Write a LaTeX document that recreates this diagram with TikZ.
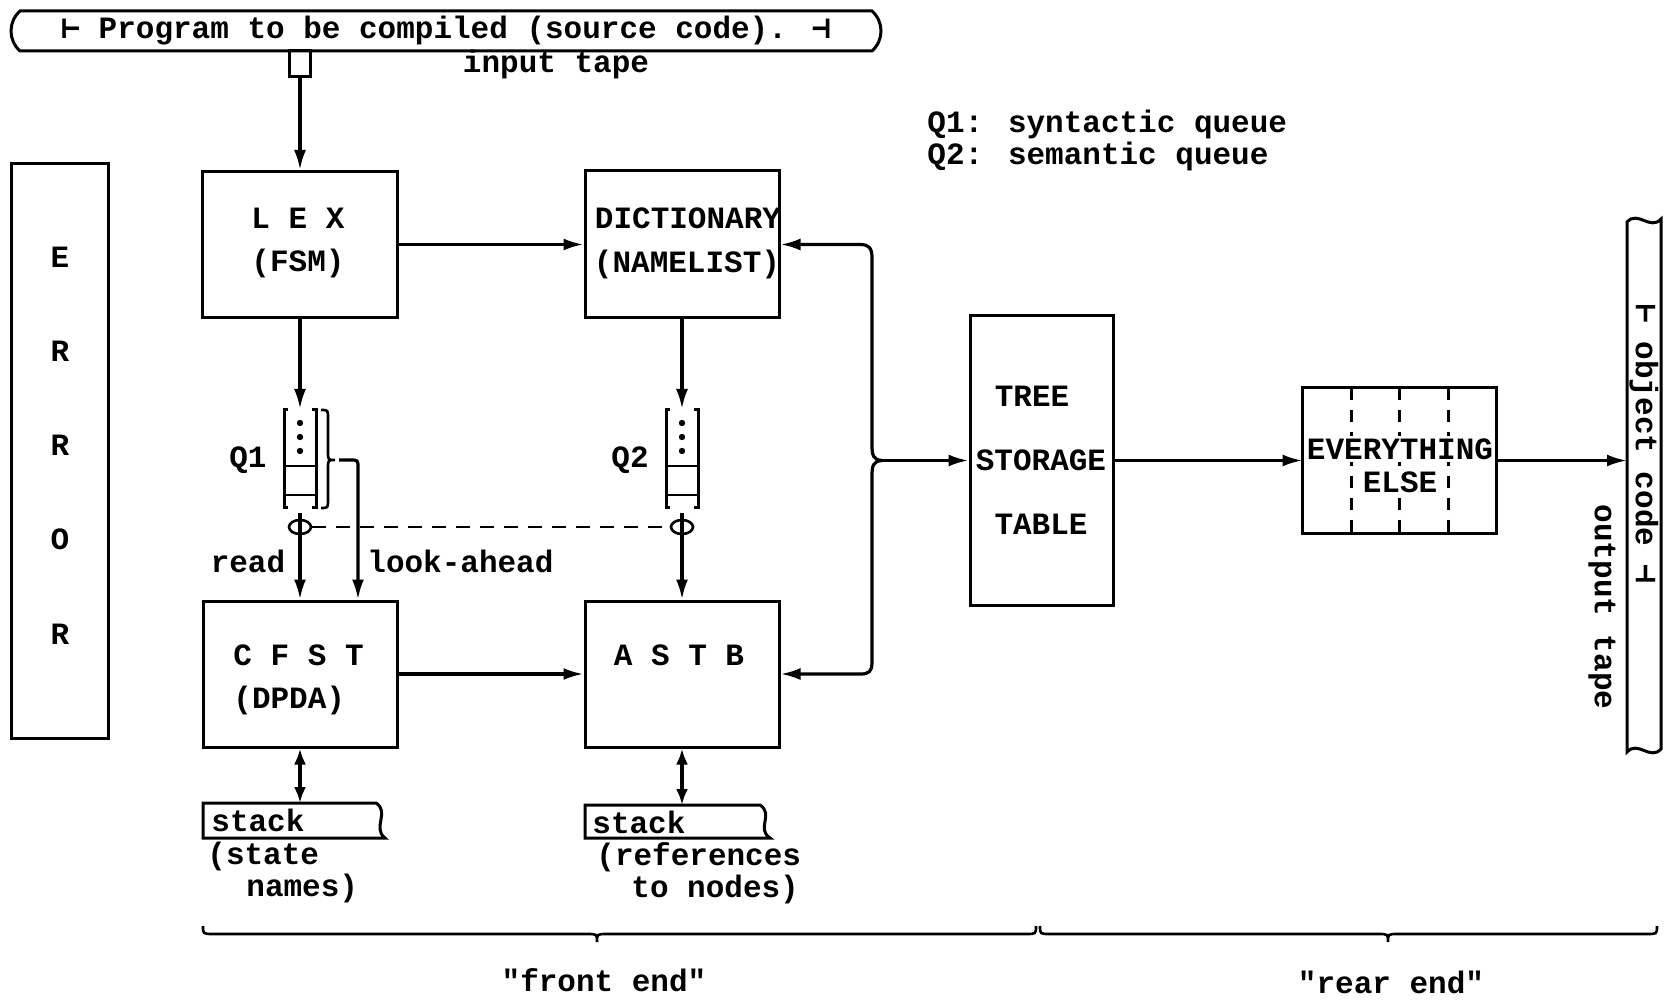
\documentclass[tikz,border=0pt]{standalone}
\usepackage{fontspec}
\newfontfamily\tw{Liberation Mono}
\newfontfamily\symf{DejaVu Sans Mono}
\usetikzlibrary{arrows.meta,shapes.geometric}
\begin{document}
\begin{tikzpicture}[x=0.5pt,y=-0.5pt,
  txt/.style={font=\tw\bfseries\fontsize{15.5}{18}\selectfont, inner sep=0pt},
  boxn/.style={draw, line width=1.5pt, inner sep=0pt},
  ln/.style={line width=1.5pt},
  thin/.style={line width=1.1pt},
  arr/.style={line width=1.6pt, -{Latex[length=10pt,width=6pt]}},
  darr/.style={line width=1.9pt, {Latex[length=8pt,width=6pt]}-{Latex[length=8pt,width=6pt]}},
  dsh/.style={line width=1.3pt, dash pattern=on 7pt off 5pt},
  eedash/.style={line width=1.2pt, dash pattern=on 6pt off 5pt},
  ring/.style={draw, ellipse, line width=1.3pt, minimum width=11pt, minimum height=7pt, inner sep=0pt},
]
\fill[white] (0,0) rectangle (1678,1000);
\useasboundingbox (0,0) rectangle (1678,1000);

% input tape
\draw[ln] (20,11) -- (872,11) .. controls (884,22) and (884,40) .. (872,51) -- (20,51) .. controls (8,40) and (8,22) .. (20,11) -- cycle;
\node[txt] (src) at (446,31) {{\symf ⊢} Program to be compiled (source code). {\symf ⊣}};
\node[boxn, minimum width=10.5pt, minimum height=13pt] (head) at (300,64) {};
\node[txt] (intape) at (556,64) {input tape};

% legend
\node[txt, anchor=west] (leg1) at (927,124) {Q1: syntactic queue};
\node[txt, anchor=west] (leg2) at (927,156) {Q2: semantic queue};

% ERROR
\node[boxn, minimum width=48.5pt, minimum height=287pt] (err) at (59.5,451) {};
\node[txt] (e1) at (60,257) {E};
\node[txt] (e2) at (60,351) {R};
\node[txt] (e3) at (60,445) {R};
\node[txt] (e4) at (60,539) {O};
\node[txt] (e5) at (60,634) {R};

% boxes
\node[boxn, minimum width=97.5pt, minimum height=73pt] (lex) at (300,244.5) {};
\node[txt] (lexa) at (298,218) {L E X};
\node[txt] (lexb) at (298,263) {(FSM)};
\node[boxn, minimum width=97pt, minimum height=73.5pt] (dict) at (682,244.5) {};
\node[txt] (dicta) at (688,218) {DICTIONARY};
\node[txt] (dictb) at (687,264) {(NAMELIST)};
\node[boxn, minimum width=97pt, minimum height=73pt] (cfst) at (300,674) {};
\node[txt, anchor=west] (cfsta) at (233,655) {C F S T};
\node[txt, anchor=west] (cfstb) at (233,700) {(DPDA)};
\node[boxn, minimum width=97pt, minimum height=73pt] (astb) at (682,674) {};
\node[txt] (astba) at (679,655) {A S T B};
\node[boxn, minimum width=71.5pt, minimum height=144.5pt] (tree) at (1041.5,460.5) {};
\node[txt] (treea) at (1032,396) {TREE};
\node[txt] (treeb) at (1041,460) {STORAGE};
\node[txt] (treec) at (1041,524) {TABLE};

% everything else
\node[minimum width=96.5pt, minimum height=72.5pt, inner sep=0pt] (ee) at (1399.5,460.5) {};
\draw[eedash] ([xshift=-24pt]ee.north) -- ([xshift=-24pt]ee.south);
\draw[eedash] (ee.north) -- (ee.south);
\draw[eedash] ([xshift=24.5pt]ee.north) -- ([xshift=24.5pt]ee.south);
\node[txt, fill=white, inner sep=1pt] (eea) at (1400,449) {EVERYTHING};
\node[txt, fill=white, inner sep=1pt] (eeb) at (1400,482) {ELSE};
\draw[ln] (ee.north west) rectangle (ee.south east);

% output tape
\draw[ln] (1627,222) .. controls (1638,210) and (1650,231) .. (1661,219) -- (1661,749) .. controls (1650,761) and (1638,740) .. (1627,752) -- cycle;
\node[txt, rotate=-90] (obj) at (1644,444) {{\symf ⊢} object code {\symf ⊣}};
\node[txt, rotate=-90] (otape) at (1602,607) {output tape};
\coordinate (otin) at (1627,460.5);

% main connectors
\draw[arr] (head.south) -- (lex.north);
\draw[arr] (lex.east) -- (dict.west);
\draw[arr] (cfst.east) -- (astb.west);
\coordinate (q1top) at (300,409);
\coordinate (q2top) at (682,409);
\draw[arr] (lex.south) -- (q1top);
\draw[arr] (dict.south) -- (q2top);

% queue 1
\draw[ln] (288,410) -- (284,410) -- (284,508) -- (288,508);
\draw[ln] (312,410) -- (316,410) -- (316,508) -- (312,508);
\draw[thin] (284,466) -- (316,466) (284,495) -- (316,495);
\fill (300,423) circle[radius=1.6pt] (300,437) circle[radius=1.6pt] (300,451) circle[radius=1.6pt];
% queue 2
\draw[ln] (670,410) -- (666,410) -- (666,508) -- (670,508);
\draw[ln] (694,410) -- (698,410) -- (698,508) -- (694,508);
\draw[thin] (666,466) -- (698,466) (666,495) -- (698,495);
\fill (682,423) circle[radius=1.6pt] (682,437) circle[radius=1.6pt] (682,451) circle[radius=1.6pt];
\node[txt] (q1l) at (248,460) {Q1};
\node[txt] (q2l) at (630,460) {Q2};

% look-ahead brace
\draw[line width=1.3pt] (321,410) .. controls (328,410) .. (328,418) -- (328,452) .. controls (328,460) .. (335,460) .. controls (328,460) .. (328,468) -- (328,500) .. controls (328,508) .. (321,508);
\coordinate (q1tip) at (339,460);
\draw[arr] (q1tip) -- (350,460) .. controls (358,460) .. (358,468) -- ([xshift=29pt]cfst.north);

% read heads
\node[ring] (r1) at (300,527) {};
\node[ring] (r2) at (682,527) {};
\coordinate (q1bot) at (300,513);
\coordinate (q2bot) at (682,513);
\draw[arr] (q1bot) -- (cfst.north);
\draw[arr] (q2bot) -- (astb.north);
\draw[dsh] (r1.east) -- (r2.west);
\node[txt] (readl) at (248,561) {read};
\node[txt, anchor=west] (lookl) at (367,561) {look-ahead};

% stacks
\draw[ln] (203,803) -- (376,803) .. controls (390,812) and (372,828) .. (385,838) -- (203,838) -- cycle;
\coordinate (s1top) at (300,803);
\draw[darr] (cfst.south) -- (s1top);
\node[txt, anchor=west] (s1) at (211,820) {stack};
\node[txt, anchor=west] (s1a) at (207,856) {(state};
\node[txt, anchor=west] (s1b) at (246,888) {names)};
\draw[ln] (585,805) -- (760,805) .. controls (774,814) and (756,829) .. (770,838) -- (585,838) -- cycle;
\coordinate (s2top) at (682,805);
\draw[darr] (astb.south) -- (s2top);
\node[txt, anchor=west] (s2) at (592,822) {stack};
\node[txt, anchor=west] (s2a) at (596,857) {(references};
\node[txt, anchor=west] (s2b) at (631,889) {to nodes)};

% brace connector to tree storage
\coordinate (bt) at (882,460.5);
\draw[arr] (bt) .. controls (873,460) and (872,455) .. (872,445) -- (872,258) .. controls (872,248) and (869,244.5) .. (860,244.5) -- (dict.east);
\draw[arr] (bt) .. controls (873,461) and (872,466) .. (872,476) -- (872,662) .. controls (872,672) and (869,674) .. (860,674) -- (astb.east);
\draw[arr] (bt) -- (tree.west);
\draw[arr] (tree.east) -- (ee.west);
\draw[arr] (ee.east) -- (otin);

% bottom braces
\draw[line width=1.3pt] (203,926) .. controls (203,934) .. (213,934) -- (587,934) .. controls (597,934) .. (597,942) .. controls (597,934) .. (607,934) -- (1026,934) .. controls (1036,934) .. (1036,926);
\draw[line width=1.3pt] (1040,926) .. controls (1040,934) .. (1050,934) -- (1378,934) .. controls (1388,934) .. (1388,942) .. controls (1388,934) .. (1398,934) -- (1647,934) .. controls (1657,934) .. (1657,926);
\node[txt] (fe) at (604,980) {"front end"};
\node[txt] (re) at (1391,982) {"rear end"};
\end{tikzpicture}
\end{document}
